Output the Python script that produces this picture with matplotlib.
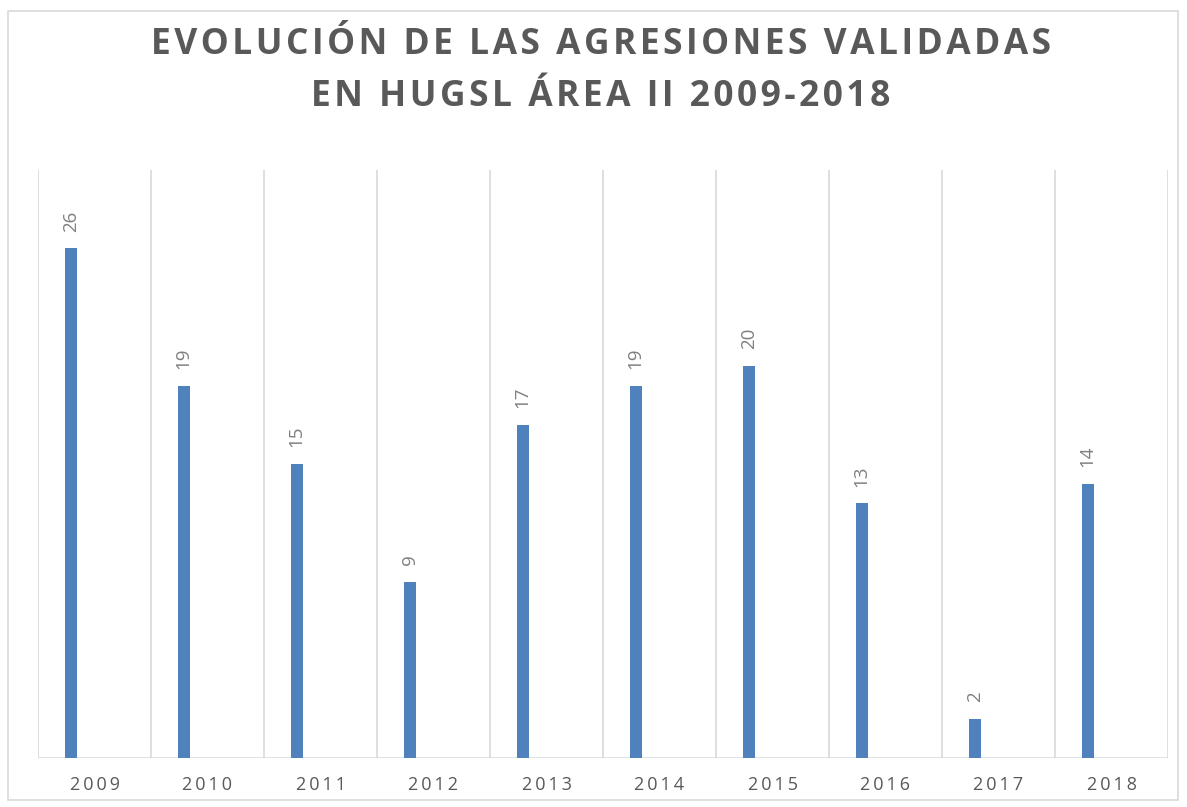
import numpy as np
from matplotlib import pyplot as plt
from matplotlib.patches import Rectangle

years = ['2009', '2010', '2011', '2012', '2013', '2014', '2015', '2016', '2017', '2018']
agresiones = [26, 19, 15, 9, 17, 19, 20, 13, 2, 14]
title_lines = ['EVOLUCIÓN DE LAS AGRESIONES VALIDADAS', 'EN HUGSL ÁREA II 2009-2018']

fam = ['Open Sans', 'DejaVu Sans']
grey = '#d9d9d9'
blue = '#4f81bd'


def spaced(s, sep='\u200a'):
    return sep.join(s)


fig = plt.figure(figsize=(11.87, 8.07), dpi=100)
fig.patches.append(Rectangle((8 / 1187, 1 - 800 / 807), 1170 / 1187, 789 / 807,
                             transform=fig.transFigure, fill=False,
                             edgecolor=grey, linewidth=1.2))

ax = fig.add_axes([38 / 1187, 1 - 758 / 807, 1130 / 1187, 588 / 807])
x = np.arange(len(years))
ax.bar(x - 0.21, agresiones, width=0.106, color=blue, zorder=3)

for xi, v in zip(x, agresiones):
    ax.annotate(str(v), (xi - 0.21, v), xytext=(0, 12), textcoords='offset points',
                rotation=90, ha='center', va='bottom', fontsize=13.5,
                color='#7f7f7f', family=fam)

ax.set_xlim(-0.5, len(years) - 0.5)
ax.set_ylim(0, 30)
for b in np.arange(-0.5, len(years), 1.0):
    ax.axvline(b, color=grey, linewidth=1.2, zorder=1)
ax.axhline(0, color=grey, linewidth=1.8, zorder=2)

for s in ax.spines.values():
    s.set_visible(False)
ax.set_yticks([])
ax.set_xticks(x)
ax.set_xticklabels([spaced(y, '\u2009') for y in years], fontsize=13,
                   color='#595959', family=fam)
ax.tick_params(axis='x', length=0, pad=13)

fig.text(0.506, 1 - 45 / 807, spaced(title_lines[0], '\u200a'), ha='center', va='center',
         fontsize=25.5, fontweight='bold', color='#595959', family=fam)
fig.text(0.506, 1 - 97 / 807, spaced(title_lines[1], '\u200a'), ha='center', va='center',
         fontsize=25.5, fontweight='bold', color='#595959', family=fam)

plt.savefig('out.png', dpi=100)
